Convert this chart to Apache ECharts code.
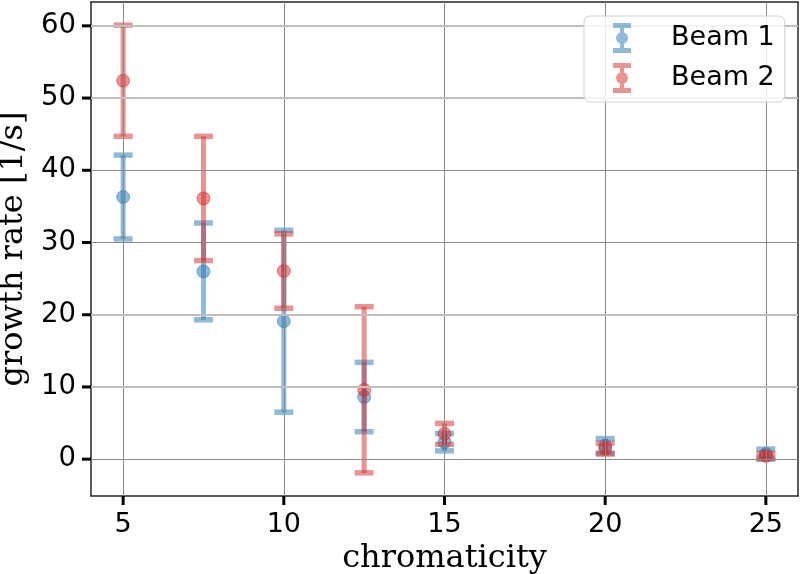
<!DOCTYPE html>
<html>
<head>
<meta charset="utf-8">
<script src="https://cdn.jsdelivr.net/npm/echarts@6/dist/echarts.min.js"></script>
<style>
  html, body { margin: 0; padding: 0; background: #fff; }
  #chart { width: 800px; height: 574px; }
</style>
</head>
<body>
<div id="chart"></div>
<script>
// Measured growth rates with their symmetric uncertainties
const chromaticity = [5, 7.5, 10, 12.5, 15, 20, 25];
const beam1Rate = [36.3, 26.0, 19.1, 8.6, 2.35, 1.85, 0.7];
const beam1Err  = [5.8, 6.7, 12.6, 4.8, 1.2, 1.0, 0.7];
const beam2Rate = [52.4, 36.1, 26.05, 9.6, 3.5, 1.45, 0.45];
const beam2Err  = [7.7, 8.6, 5.15, 11.5, 1.45, 0.75, 0.35];

// Tick positions
const xTicks = [5, 10, 15, 20, 25];
const yTicks = [0, 10, 20, 30, 40, 50, 60];
const yTicksStrong = [0, 30, 40];

const X_RANGE = [4, 26];
const Y_RANGE = [-5.1, 63.3];

const BLUE = '#1f77b4';
const RED = '#d62728';
const SPINE = { color: '#262626', width: 1.5 };
const TICK_LEN = 9;

function rows(rate, err) {
  return chromaticity.map((c, i) => [c, rate[i], rate[i] - err[i], rate[i] + err[i]]);
}

function errorBarRenderer(color) {
  return function (params, api) {
    const x = api.value(0);
    const p = api.coord([x, api.value(1)]);
    const lo = api.coord([x, api.value(2)]);
    const hi = api.coord([x, api.value(3)]);
    const capHalf = 9.5;
    return {
      type: 'group',
      children: [
        { type: 'line', shape: { x1: p[0], y1: lo[1], x2: p[0], y2: hi[1] },
          style: { stroke: color, lineWidth: 5, opacity: 0.5 } },
        { type: 'line', shape: { x1: p[0] - capHalf, y1: hi[1], x2: p[0] + capHalf, y2: hi[1] },
          style: { stroke: color, lineWidth: 5.5, opacity: 0.5 } },
        { type: 'line', shape: { x1: p[0] - capHalf, y1: lo[1], x2: p[0] + capHalf, y2: lo[1] },
          style: { stroke: color, lineWidth: 5.5, opacity: 0.5 } },
        { type: 'circle', shape: { cx: p[0], cy: p[1], r: 6.5 },
          style: { fill: color, stroke: color, lineWidth: 1, opacity: 0.5 } }
      ]
    };
  };
}

// Outward tick mark at a point on the bottom (dx=0) or left (dy=0) spine
function tickRenderer(dx, dy) {
  return function (params, api) {
    const p = api.coord([api.value(0), api.value(1)]);
    return {
      type: 'line',
      shape: { x1: p[0], y1: p[1], x2: p[0] + dx, y2: p[1] + dy },
      style: { stroke: '#000', lineWidth: 3 }
    };
  };
}

// Legend glyph: cap, stem, marker, cap
const errIcon = 'path://M0,0H18V5H0Z M7,5H11V25H7Z M0,25H18V30H0Z M9,9A6,6 0 1,1 8.99,9Z';

const gridLines = xTicks.map(v => ({ xAxis: v, lineStyle: { color: '#8a8a8a', width: 1, type: 'solid' } }))
  .concat(yTicks.map(v => yTicksStrong.includes(v)
    ? { yAxis: v, lineStyle: { color: '#8a8a8a', width: 1, type: 'solid' } }
    : { yAxis: v, lineStyle: { color: '#c0c0c0', width: 2, type: 'solid' } }));

// Plain frame axes for the top and right spines
const spineAxis = (pos, range) => ({
  type: 'value', position: pos, min: range[0], max: range[1],
  axisLine: { show: true, onZero: false, lineStyle: SPINE },
  axisTick: { show: false }, axisLabel: { show: false }, splitLine: { show: false }
});

const chart = echarts.init(document.getElementById('chart'), null, { renderer: 'canvas' });

chart.setOption({
  animation: false,
  backgroundColor: '#ffffff',
  textStyle: { fontFamily: 'DejaVu Sans' },
  grid: { left: 91, right: 2, top: 2, bottom: 78, outerBoundsMode: 'none' },
  legend: {
    orient: 'vertical',
    left: 584, top: 16,
    padding: [7, 10, 9, 29],
    itemWidth: 18, itemHeight: 30, itemGap: 10,
    backgroundColor: 'rgba(255,255,255,0.8)',
    borderColor: '#d0d0d0', borderWidth: 1, borderRadius: 6,
    z: 20,
    textStyle: { fontFamily: 'DejaVu Sans', fontSize: 27, color: '#000', padding: [0, 0, 0, 35] },
    data: [
      { name: 'Beam 1', icon: errIcon, itemStyle: { color: 'rgba(31,119,180,0.5)' } },
      { name: 'Beam 2', icon: errIcon, itemStyle: { color: 'rgba(214,39,40,0.5)' } }
    ]
  },
  xAxis: [{
    type: 'value', position: 'bottom', min: X_RANGE[0], max: X_RANGE[1],
    name: 'chromaticity', nameLocation: 'middle', nameGap: 44,
    nameTextStyle: { fontFamily: 'DejaVu Serif', fontSize: 32, color: '#000' },
    axisLine: { show: true, onZero: false, lineStyle: SPINE },
    axisTick: { show: false },
    axisLabel: { customValues: xTicks, margin: 15, fontSize: 27, color: '#000', fontFamily: 'DejaVu Sans' },
    splitLine: { show: false }
  }, spineAxis('top', X_RANGE)],
  yAxis: [{
    type: 'value', position: 'left', min: Y_RANGE[0], max: Y_RANGE[1],
    name: 'growth rate [1/s]', nameLocation: 'middle', nameGap: 57,
    nameTextStyle: { fontFamily: 'DejaVu Serif', fontSize: 32, color: '#000' },
    axisLine: { show: true, onZero: false, lineStyle: SPINE },
    axisTick: { show: false },
    axisLabel: { customValues: yTicks, margin: 15, fontSize: 27.5, color: '#000', fontFamily: 'DejaVu Sans' },
    splitLine: { show: false }
  }, spineAxis('right', Y_RANGE)],
  series: [
    {
      name: 'grid', type: 'line', data: [], z: 1, silent: true,
      markLine: { silent: true, symbol: ['none', 'none'], label: { show: false }, animation: false, data: gridLines }
    },
    {
      name: 'Beam 1', type: 'custom', z: 3, clip: false,
      itemStyle: { color: BLUE },
      encode: { x: 0, y: [1, 2, 3] },
      data: rows(beam1Rate, beam1Err),
      renderItem: errorBarRenderer(BLUE)
    },
    {
      name: 'Beam 2', type: 'custom', z: 4, clip: false,
      itemStyle: { color: RED },
      encode: { x: 0, y: [1, 2, 3] },
      data: rows(beam2Rate, beam2Err),
      renderItem: errorBarRenderer(RED)
    },
    {
      name: 'x ticks', type: 'custom', z: 10, clip: false, silent: true,
      encode: { x: 0, y: 1 },
      data: xTicks.map(v => [v, Y_RANGE[0]]),
      renderItem: tickRenderer(0, TICK_LEN)
    },
    {
      name: 'y ticks', type: 'custom', z: 10, clip: false, silent: true,
      encode: { x: 0, y: 1 },
      data: yTicks.map(v => [X_RANGE[0], v]),
      renderItem: tickRenderer(-TICK_LEN, 0)
    }
  ]
});
</script>
</body>
</html>
